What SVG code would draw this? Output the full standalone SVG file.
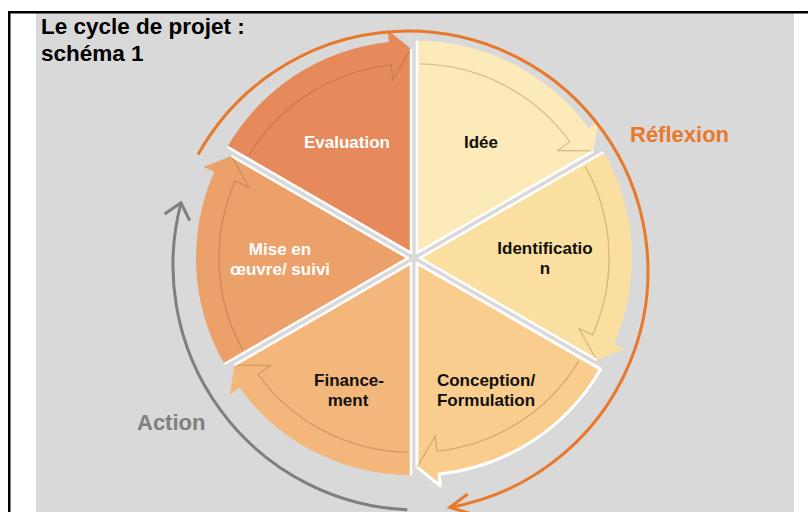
<svg xmlns="http://www.w3.org/2000/svg" xmlns:xlink="http://www.w3.org/1999/xlink" width="808" height="512" viewBox="0 0 808 512">
<style>
  .lbl { font-family: "Liberation Sans", Arial, sans-serif; font-weight: bold; font-size: 17px; text-anchor: middle; }
  .dark { fill: #111111; }
  .light { fill: #ffffff; }
  .title { font-family: "Liberation Sans", Arial, sans-serif; font-weight: bold; font-size: 22.5px; fill: #000000; }
  .big { font-family: "Liberation Sans", Arial, sans-serif; font-weight: bold; font-size: 22px; }
  .edge { fill: none; stroke: #ffffff; stroke-width: 2.5; stroke-linejoin: round; }
  .inner { fill: none; stroke: #8a5a20; stroke-opacity: 0.3; stroke-width: 1.3; }
</style>
<defs>
  <path id="wedge" d="M 417 252.8 L 417 40.8 A 212 212 0 0 1 588.51 128.19 L 598.22 121.14 L 593.67 150.8 Z"/>
  <path id="wedgeEdges" d="M 417 40.8 L 417 252.8 L 593.67 150.8"/>
  <path id="wedgeInner" d="M 420.3 63.83 A 189 189 0 0 1 569.9 141.71 L 557.77 150.52 L 593.67 150.8"/>
  <marker id="arrOrange" markerUnits="userSpaceOnUse" viewBox="-22 -12 24 24" refX="0" refY="0" markerWidth="24" markerHeight="24" orient="auto" overflow="visible">
    <path d="M -20 -10 L 0 0 L -20 10" fill="none" stroke="#E8782A" stroke-width="3"/>
  </marker>
  <marker id="arrGray" markerUnits="userSpaceOnUse" viewBox="-22 -14 24 28" refX="0" refY="0" markerWidth="24" markerHeight="28" orient="auto" overflow="visible">
    <path d="M -15 -13 L 0 0 L -15 13" fill="none" stroke="#7F7F7F" stroke-width="3"/>
  </marker>
</defs>

<!-- frame and background -->
<rect x="36" y="13" width="758" height="499" fill="#D9D9D9"/>
<rect x="8" y="11" width="800" height="2.5" fill="#000000"/>
<rect x="8" y="11" width="2.5" height="501" fill="#000000"/>

<g id="title">
  <text class="title" x="41" y="34">Le cycle de projet :</text>
  <text class="title" x="41" y="61">schéma 1</text>
</g>

<g id="node-idee">
  <use xlink:href="#wedge" fill="#FCEAB8"/>
  <use xlink:href="#wedgeInner" class="inner"/>
  <use xlink:href="#wedgeEdges" class="edge"/>
  <text class="lbl dark" x="481" y="148">Idée</text>
</g>
<g id="node-identification">
  <use xlink:href="#wedge" fill="#FADFA0" transform="rotate(60 414 258)"/>
  <use xlink:href="#wedgeInner" class="inner" transform="rotate(60 414 258)"/>
  <use xlink:href="#wedgeEdges" class="edge" transform="rotate(60 414 258)"/>
  <text class="lbl dark" x="545" y="254">Identificatio</text>
  <text class="lbl dark" x="545" y="274">n</text>
</g>
<g id="node-conception">
  <use xlink:href="#wedge" fill="#F8CD8E" stroke="#ffffff" stroke-width="3" stroke-linejoin="round" transform="rotate(120 414 258)"/>
  <use xlink:href="#wedgeInner" class="inner" transform="rotate(120 414 258)"/>
  <text class="lbl dark" x="486" y="386">Conception/</text>
  <text class="lbl dark" x="486" y="406">Formulation</text>
</g>
<g id="node-financement">
  <use xlink:href="#wedge" fill="#F3B77C" transform="rotate(180 414 258)"/>
  <use xlink:href="#wedgeInner" class="inner" transform="rotate(180 414 258)"/>
  <use xlink:href="#wedgeEdges" class="edge" transform="rotate(180 414 258)"/>
  <text class="lbl dark" x="349" y="386">Finance-</text>
  <text class="lbl dark" x="348" y="406">ment</text>
</g>
<g id="node-mise-en-oeuvre">
  <use xlink:href="#wedge" fill="#ECA06A" transform="rotate(240 414 258)"/>
  <use xlink:href="#wedgeInner" class="inner" transform="rotate(240 414 258)"/>
  <use xlink:href="#wedgeEdges" class="edge" transform="rotate(240 414 258)"/>
  <text class="lbl light" x="280" y="255">Mise en</text>
  <text class="lbl light" x="280" y="275">œuvre/ suivi</text>
</g>
<g id="node-evaluation">
  <use xlink:href="#wedge" fill="#E68A5C" transform="rotate(300 414 258)"/>
  <use xlink:href="#wedgeInner" class="inner" transform="rotate(300 414 258)"/>
  <use xlink:href="#wedgeEdges" class="edge" transform="rotate(300 414 258)"/>
  <text class="lbl light" x="347" y="148">Evaluation</text>
</g>

<g id="connectors">
  <path d="M 198.1 154.6 A 240 240 0 1 1 449.7 507.4" fill="none" stroke="#E8782A" stroke-width="3" marker-end="url(#arrOrange)"/>
  <path d="M 407.3 509.8 A 245 245 0 0 1 181 202.8" fill="none" stroke="#7F7F7F" stroke-width="3" marker-end="url(#arrGray)"/>
</g>

<g id="labels">
  <text class="big" x="630" y="142" fill="#E8782A">Réflexion</text>
  <text class="big" x="137" y="430" fill="#7F7F7F">Action</text>
</g>
</svg>
